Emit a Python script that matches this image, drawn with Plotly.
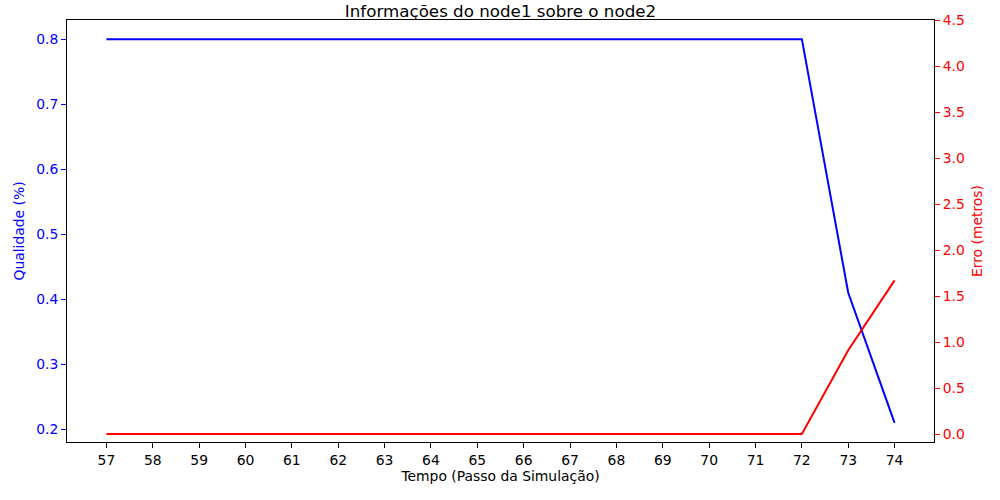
import plotly.graph_objects as go

tempo = list(range(57, 75))
qualidade = [0.8] * 16 + [0.41, 0.21]
erro = [0.0] * 16 + [0.91, 1.67]
x_ticks = list(range(57, 75))
q_ticks = [0.2, 0.3, 0.4, 0.5, 0.6, 0.7, 0.8]
e_ticks = [0.0, 0.5, 1.0, 1.5, 2.0, 2.5, 3.0, 3.5, 4.0, 4.5]

font = "DejaVu Sans"
fs = 13.9
fig = go.Figure()
fig.add_trace(go.Scatter(x=tempo, y=qualidade, mode="lines",
                         line=dict(color="#0000ff", width=2), yaxis="y", showlegend=False))
fig.add_trace(go.Scatter(x=tempo, y=erro, mode="lines",
                         line=dict(color="#ff0000", width=2), yaxis="y2", showlegend=False))

fig.update_layout(
    width=1000, height=500,
    margin=dict(l=67, r=66, t=20, b=58),
    paper_bgcolor="white", plot_bgcolor="white",
    font=dict(family=font, size=fs, color="black"),
    title=dict(text="Informações do node1 sobre o node2", x=0.5, xanchor="center",
               xref="paper", yref="paper", y=1, yanchor="bottom", pad=dict(b=3),
               font=dict(size=16.7)),
    xaxis=dict(range=[56.15, 74.85], tickvals=x_ticks, ticktext=[str(t) for t in x_ticks],
               automargin=False,
               showgrid=False, zeroline=False, showline=True, linecolor="black", linewidth=1,
               mirror=True, ticks="outside", ticklen=5, tickcolor="black",
               tickfont=dict(size=fs),
               title=dict(text="Tempo (Passo da Simulação)", standoff=4, font=dict(size=fs))),
    yaxis=dict(range=[0.1805, 0.8295], tickvals=q_ticks, ticktext=[f"{v:.1f}" for v in q_ticks],
               automargin=False,
               showgrid=False, zeroline=False, showline=True, linecolor="black", linewidth=1,
               ticks="outside", ticklen=5, tickcolor="#0000ff",
               tickfont=dict(color="#0000ff", size=fs),
               title=dict(text="Qualidade (%)", font=dict(color="#0000ff", size=fs), standoff=8)),
    yaxis2=dict(range=[-0.087, 4.5], tickvals=e_ticks, ticktext=[f"{v:.1f}" for v in e_ticks],
                overlaying="y", side="right", anchor="x", automargin=False,
                showgrid=False, zeroline=False, showline=True, linecolor="black", linewidth=1,
                ticks="outside", ticklen=5, tickcolor="#ff0000",
                tickfont=dict(color="#ff0000", size=fs),
                title=dict(text="Erro (metros)", font=dict(color="#ff0000", size=fs), standoff=8)),
)
fig.write_html("out.html", config={"displayModeBar": False},
               post_script="document.body.style.margin='0';")
